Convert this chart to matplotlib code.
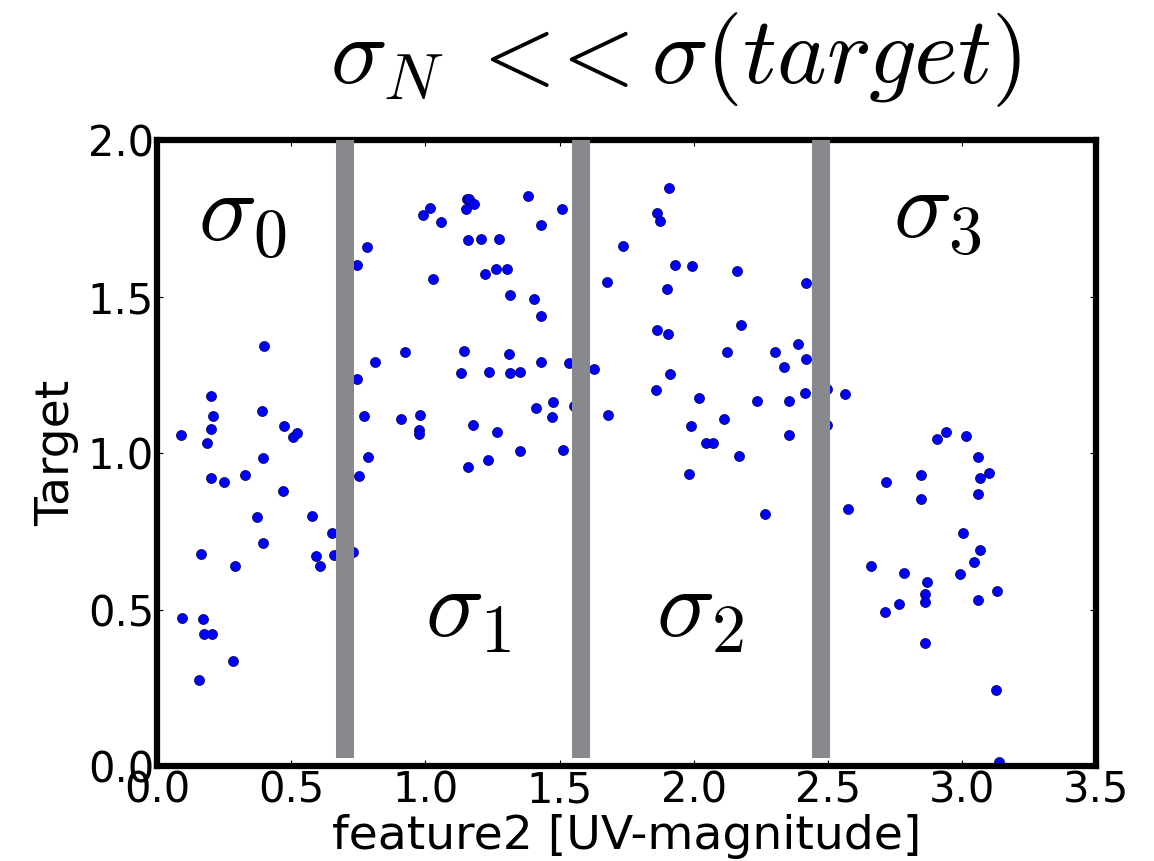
"""noisy target vs feature2, with the four noise regions marked"""

import matplotlib
matplotlib.use('Agg')
import matplotlib.pyplot as plt


# feature2 / target samples, left to right
feature2 = [0.088, 0.093, 0.157, 0.165, 0.171, 0.176, 0.188, 0.201, 0.207, 0.201,
            0.201, 0.204, 0.250, 0.282, 0.292, 0.328, 0.374, 0.391, 0.396, 0.396,
            0.400, 0.470, 0.475, 0.506, 0.522, 0.579, 0.592, 0.606, 0.651, 0.659,
            0.732,
            0.747, 0.784, 0.746, 0.773, 0.786, 0.752, 0.812, 0.924, 0.908, 0.981,
            0.976, 0.976, 0.993, 1.017, 1.029, 1.060, 1.133, 1.143, 1.150, 1.154,
            1.164, 1.180, 1.159, 1.159, 1.178, 1.206, 1.223, 1.232, 1.238, 1.264,
            1.268, 1.273, 1.306, 1.311, 1.316, 1.316, 1.353, 1.353, 1.384, 1.404,
            1.414, 1.430, 1.430, 1.430, 1.472, 1.476, 1.508, 1.514, 1.534, 1.555,
            1.628, 1.676, 1.681, 1.738, 1.859, 1.864, 1.864, 1.875, 1.899, 1.906,
            1.909, 1.911, 1.932, 1.984, 1.989, 1.995, 2.020, 2.046, 2.070, 2.114,
            2.124, 2.162, 2.168, 2.177, 2.235, 2.266, 2.304, 2.335, 2.354, 2.354,
            2.387, 2.413, 2.418, 2.418,
            2.496, 2.498, 2.564, 2.574, 2.662, 2.714, 2.715, 2.766, 2.783, 2.846,
            2.846, 2.861, 2.861, 2.861, 2.871, 2.908, 2.939, 2.992, 3.003, 3.013,
            3.045, 3.060, 3.060, 3.060, 3.065, 3.067, 3.102, 3.128, 3.130, 3.138]

target = [1.060, 0.474, 0.277, 0.679, 0.470, 0.424, 1.033, 1.184, 1.118, 1.078,
          0.921, 0.424, 0.908, 0.335, 0.639, 0.932, 0.797, 1.136, 0.985, 0.715,
          1.342, 0.881, 1.086, 1.051, 1.065, 0.799, 0.671, 0.639, 0.746, 0.675,
          0.685,
          1.601, 1.659, 1.239, 1.118, 0.988, 0.927, 1.292, 1.323, 1.109, 1.123,
          1.073, 1.062, 1.762, 1.785, 1.557, 1.738, 1.257, 1.328, 1.780, 1.811,
          1.813, 1.797, 1.682, 0.956, 1.090, 1.685, 1.573, 0.979, 1.261, 1.588,
          1.068, 1.685, 1.588, 1.318, 1.507, 1.257, 1.261, 1.006, 1.821, 1.494,
          1.144, 1.730, 1.440, 1.292, 1.117, 1.163, 1.780, 1.010, 1.288, 1.150,
          1.270, 1.547, 1.123, 1.663, 1.202, 1.767, 1.395, 1.743, 1.525, 1.382,
          1.847, 1.252, 1.601, 0.934, 1.086, 1.597, 1.176, 1.032, 1.032, 1.109,
          1.323, 1.584, 0.992, 1.409, 1.167, 0.805, 1.323, 1.275, 1.167, 1.060,
          1.350, 1.194, 1.543, 1.302,
          1.207, 1.089, 1.189, 0.822, 0.639, 0.492, 0.907, 0.518, 0.617, 0.930,
          0.853, 0.550, 0.526, 0.393, 0.590, 1.045, 1.069, 0.613, 0.746, 1.054,
          0.652, 0.988, 0.871, 0.532, 0.921, 0.692, 0.938, 0.245, 0.559, 0.013]

# region boundaries and the sigma label of each region
boundaries = [0.70, 1.58, 2.475]
region_labels = [r'$\sigma_0$', r'$\sigma_1$', r'$\sigma_2$', r'$\sigma_3$']
label_x = [0.317, 1.159, 2.024, 2.907]
label_y = [1.76, 0.50, 0.50, 1.77]


def main():
    plt.rcParams['mathtext.fontset'] = 'cm'
    plt.rcParams['font.family'] = ['DejaVu Sans']

    fig = plt.figure(figsize=(11.54, 8.61), dpi=100)
    ax = fig.add_axes([0.136, 0.110, 0.814, 0.727])

    ax.scatter(feature2, target, s=52, c='#0000ff', edgecolors='#000044',
               linewidths=0.5, zorder=2)

    for b in boundaries:
        ax.plot([b, b], [0.025, 2.0], color='#87898c', lw=13,
                solid_capstyle='butt', zorder=3)

    for lab, x, y in zip(region_labels, label_x, label_y):
        ax.text(x, y, lab, fontsize=70, ha='center', va='center', zorder=4)

    ax.set_xlim(0, 3.5)
    ax.set_ylim(0, 2.0)
    ax.set_xticks([0.0, 0.5, 1.0, 1.5, 2.0, 2.5, 3.0, 3.5])
    ax.set_yticks([0.0, 0.5, 1.0, 1.5, 2.0])
    ax.xaxis.set_major_formatter(plt.FormatStrFormatter('%.1f'))
    ax.yaxis.set_major_formatter(plt.FormatStrFormatter('%.1f'))
    ax.tick_params(direction='in', top=True, right=True, length=4,
                   width=0.8, labelsize=30, pad=2)

    for sp in ax.spines.values():
        sp.set_linewidth(4.5)

    ax.set_xlabel('feature2 [UV-magnitude]', fontsize=34, labelpad=2)
    ax.set_ylabel('Target', fontsize=34, labelpad=6)

    fig.text(0.585, 0.93, r'$\sigma_N\;<\!\!<\sigma(target)$', fontsize=68,
             ha='center', va='center')

    fig.savefig('out.png', dpi=100)


if __name__ == '__main__':
    main()
